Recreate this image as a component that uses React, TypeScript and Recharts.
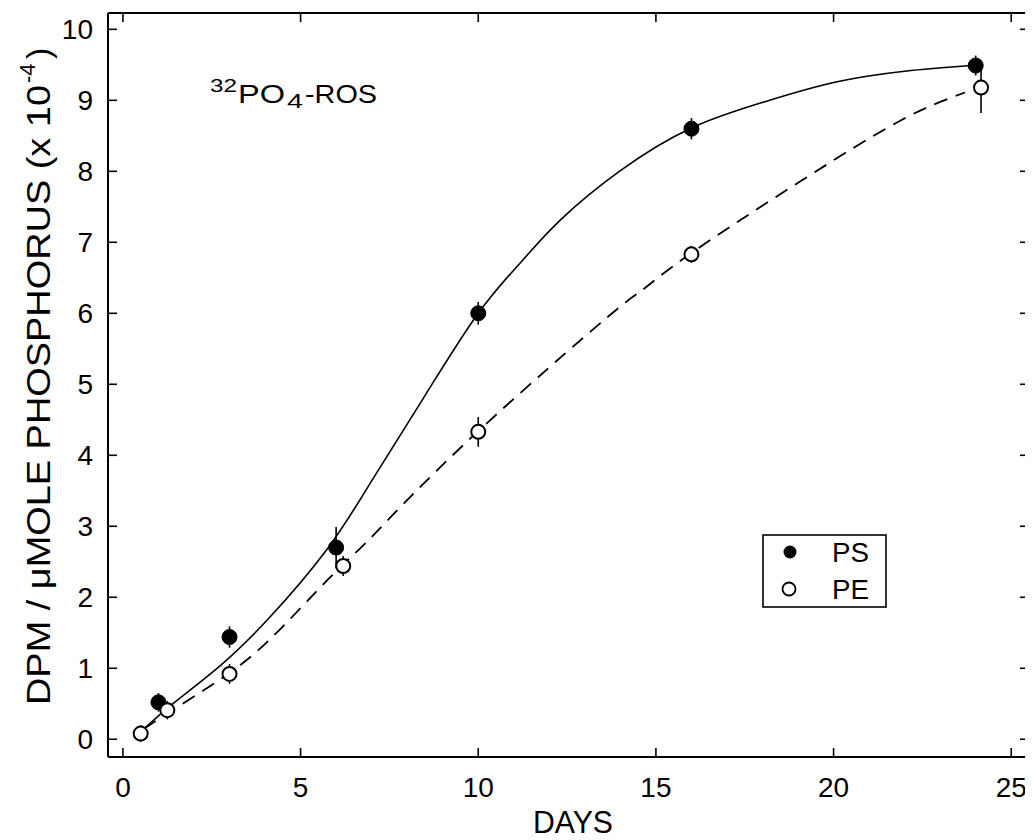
import React from 'react';
import {
  ComposedChart, Line, Scatter, XAxis, YAxis, ErrorBar, Legend, Customized,
} from 'recharts';

// ---- data ----
const xTicks = [0, 5, 10, 15, 20, 25];
const yTicks = [0, 1, 2, 3, 4, 5, 6, 7, 8, 9, 10];
const xDomain = [-0.42, 25.5];
const yDomain = [-0.25, 10.23];

const psDays = [1, 3, 6, 10, 16, 24];
const psValues = [0.52, 1.44, 2.7, 6.0, 8.6, 9.49];
const psErrors = [0.13, 0.15, 0.29, 0.16, 0.15, 0.14];

const peDays = [0.5, 1.25, 3, 6.2, 10, 16, 24.15];
const peValues = [0.08, 0.41, 0.92, 2.44, 4.33, 6.83, 9.18];
const peErrors = [0.12, 0.13, 0.14, 0.14, 0.21, 0.12, 0.36];

const psCurveX = [0.6, 1.4, 2.7, 4.1, 5.75, 7.0, 8.5, 10.0, 11.2, 12.3, 14.0, 16.0, 18.0, 20.0, 22.0, 23.9];
const psCurveY = [0.15, 0.5, 1.02, 1.7, 2.68, 3.64, 4.84, 6.0, 6.72, 7.31, 8.01, 8.61, 8.97, 9.25, 9.41, 9.49];

const peCurveX = [0.6, 1.3, 2.7, 4.1, 5.75, 6.7, 7.5, 10.0, 13.6, 14.6, 16.0, 19.1, 21.9, 23.7];
const peCurveY = [0.15, 0.38, 0.83, 1.39, 2.24, 2.7, 3.11, 4.34, 5.93, 6.32, 6.85, 7.87, 8.72, 9.11];

const psPoints = psDays.map((x, i) => ({ x, y: psValues[i], err: psErrors[i] }));
const pePoints = peDays.map((x, i) => ({ x, y: peValues[i], err: peErrors[i] }));
const psCurve = psCurveX.map((x, i) => ({ x, y: psCurveY[i] }));
const peCurve = peCurveX.map((x, i) => ({ x, y: peCurveY[i] }));

const FONT = '"Liberation Sans", Arial, Helvetica, sans-serif';
const TICK_LEN = 9;

const BottomTick = (props: any) => {
  const { x, y, payload } = props;
  return (
    <g>
      <line x1={x} y1={y} x2={x} y2={y - TICK_LEN} stroke="#000" strokeWidth={1.6} />
      <text x={x} y={y + 40} textAnchor="middle" fontFamily={FONT} fontSize={28} fill="#000">
        {payload.value}
      </text>
    </g>
  );
};
const TopTick = (props: any) => {
  const { x, y } = props;
  return <line x1={x} y1={y} x2={x} y2={y + TICK_LEN} stroke="#000" strokeWidth={1.6} />;
};
const LeftTick = (props: any) => {
  const { x, y, payload } = props;
  return (
    <g>
      <line x1={x} y1={y} x2={x + TICK_LEN} y2={y} stroke="#000" strokeWidth={1.6} />
      <text x={x - 15} y={y + 10} textAnchor="end" fontFamily={FONT} fontSize={28} fill="#000">
        {payload.value}
      </text>
    </g>
  );
};
const RightTick = (props: any) => {
  const { x, y } = props;
  return <line x1={x} y1={y} x2={x - TICK_LEN} y2={y} stroke="#000" strokeWidth={1.6} />;
};

const FilledDot = (props: any) => {
  const { cx, cy } = props;
  return <circle cx={cx} cy={cy} r={7.5} fill="#000" stroke="#000" />;
};
const OpenDot = (props: any) => {
  const { cx, cy } = props;
  return <circle cx={cx} cy={cy} r={7} fill="#fff" stroke="#000" strokeWidth={2} />;
};

const LegendBox = () => (
  <svg width={126} height={75} style={{ display: 'block' }}>
    <rect x={1} y={1} width={123} height={72} fill="#fff" stroke="#000" strokeWidth={1.6} />
    <circle cx={28} cy={18} r={6.5} fill="#000" />
    <text x={70} y={28} fontFamily={FONT} fontSize={27} textLength={37} lengthAdjust="spacingAndGlyphs" fill="#000">PS</text>
    <circle cx={27} cy={55} r={6.5} fill="#fff" stroke="#000" strokeWidth={1.8} />
    <text x={70} y={65} fontFamily={FONT} fontSize={27} textLength={37} lengthAdjust="spacingAndGlyphs" fill="#000">PE</text>
  </svg>
);

const Texts = () => (
  <g fontFamily={FONT} fill="#000">
    <text x={202} y={84} fontSize={19} textLength={27} lengthAdjust="spacingAndGlyphs">32</text>
    <text x={230} y={95} fontSize={25} textLength={47} lengthAdjust="spacingAndGlyphs">PO</text>
    <text x={279} y={100} fontSize={21} textLength={16} lengthAdjust="spacingAndGlyphs">4</text>
    <text x={297} y={95} fontSize={25} textLength={72} lengthAdjust="spacingAndGlyphs">-ROS</text>
    <text x={525} y={825} fontSize={31} textLength={80} lengthAdjust="spacingAndGlyphs">DAYS</text>
    <g transform="translate(42, 697) rotate(-90)">
      <text x={0} y={0} fontSize={34} textLength={620} lengthAdjust="spacingAndGlyphs">
        DPM / μMOLE PHOSPHORUS (x 10
      </text>
      <text x={622} y={-15} fontSize={22}>-4</text>
      <text x={646} y={0} fontSize={34}>)</text>
    </g>
  </g>
);

export default function App() {
  return (
    <div style={{ width: 1025, height: 832 }}>
      <ComposedChart width={1025} height={832} margin={{ top: 0, right: 0, bottom: 0, left: 0 }}>
        <XAxis
          xAxisId="b" type="number" dataKey="x" domain={xDomain} ticks={xTicks}
          orientation="bottom" height={83} tickSize={0} tickMargin={0} tickLine={false}
          axisLine={{ stroke: '#000', strokeWidth: 2 }} tick={BottomTick} allowDataOverflow
          interval={0}
        />
        <XAxis
          xAxisId="t" type="number" dataKey="x" domain={xDomain} ticks={xTicks}
          orientation="top" height={5} tickSize={0} tickMargin={0} tickLine={false}
          axisLine={{ stroke: '#000', strokeWidth: 2.2 }} tick={TopTick} allowDataOverflow
          interval={0}
        />
        <YAxis
          yAxisId="l" type="number" dataKey="y" domain={yDomain} ticks={yTicks}
          width={100} tickSize={0} tickMargin={0} tickLine={false}
          axisLine={{ stroke: '#000', strokeWidth: 2 }} tick={LeftTick} allowDataOverflow
          interval={0}
        />
        <YAxis
          yAxisId="r" orientation="right" type="number" dataKey="y" domain={yDomain} ticks={yTicks}
          width={4} tickSize={0} tickMargin={0} tickLine={false}
          axisLine={{ stroke: '#000', strokeWidth: 2 }} tick={RightTick} allowDataOverflow
          interval={0}
        />
        <Line
          xAxisId="b" yAxisId="l" data={psCurve} dataKey="y" type="natural"
          stroke="#000" strokeWidth={1.6} dot={false} activeDot={false} isAnimationActive={false}
          legendType="none"
        />
        <Line
          xAxisId="b" yAxisId="l" data={peCurve} dataKey="y" type="natural"
          stroke="#000" strokeWidth={1.8} strokeDasharray="14 9" dot={false} activeDot={false}
          isAnimationActive={false} legendType="none"
        />
        <Scatter
          xAxisId="b" yAxisId="l" data={psPoints} dataKey="y" name="PS"
          shape={FilledDot} isAnimationActive={false}
        >
          <ErrorBar dataKey="err" direction="y" width={0} stroke="#000" strokeWidth={1.6} />
        </Scatter>
        <Scatter
          xAxisId="b" yAxisId="l" data={pePoints} dataKey="y" name="PE"
          shape={OpenDot} isAnimationActive={false}
        >
          <ErrorBar dataKey="err" direction="y" width={0} stroke="#000" strokeWidth={1.6} />
        </Scatter>
        <Legend
          layout="horizontal" verticalAlign="middle" align="center"
          content={LegendBox}
          wrapperStyle={{ position: 'absolute', left: 754, top: 526, width: 126, height: 75 }}
        />
        <Customized component={Texts} />
      </ComposedChart>
    </div>
  );
}
